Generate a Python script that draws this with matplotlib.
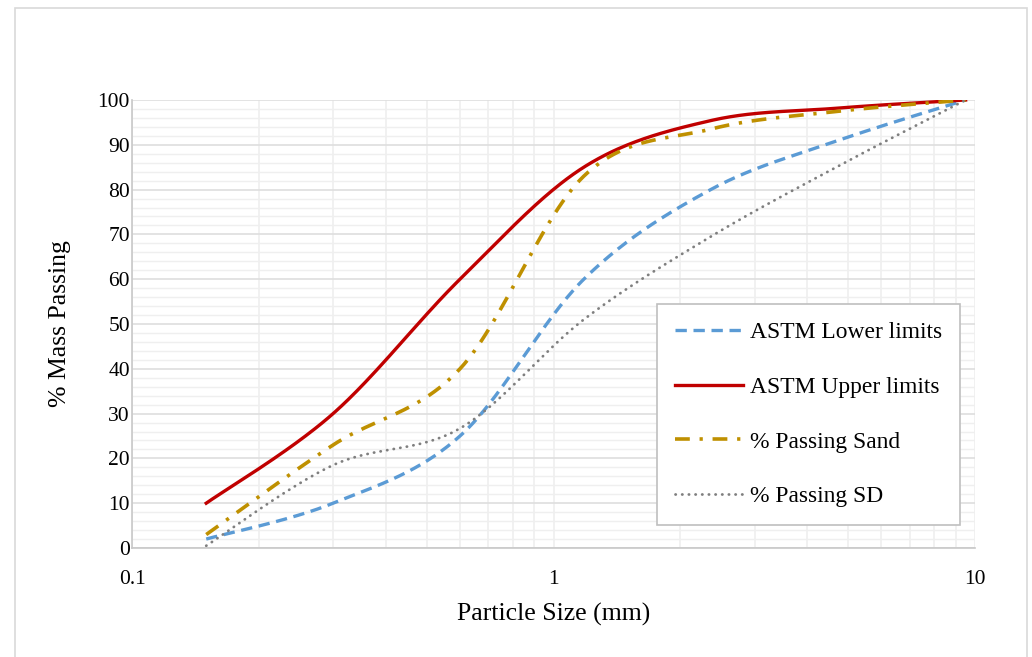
import matplotlib.pyplot as plt
import numpy as np
from matplotlib.patches import Rectangle
from matplotlib.ticker import FixedLocator, NullFormatter

SIEVE_MM = [0.15, 0.3, 0.6, 1.18, 2.36, 4.75, 9.5]
LOWER = [2, 10, 25, 60, 80, 91, 100]
UPPER = [10, 30, 60, 85, 95.4, 98.2, 100]
SAND = [3, 23, 40, 83, 93.5, 97.5, 100]
SD = [0.5, 18.5, 26.7, 51, 69.5, 85.3, 100]

LABELS = ["ASTM Lower limits", "ASTM Upper limits", "% Passing Sand", "% Passing SD"]

AX_W, AX_H = 843.0, 448.0


def smooth(xs, ys, n=60):
    # Excel-style smoothed line: Catmull-Rom Bezier in screen space (log x)
    px = (np.log10(xs) + 1) / 2 * AX_W
    py = np.asarray(ys, float) / 100 * AX_H
    pts = np.column_stack([px, py])
    ext = np.vstack([pts[0], pts, pts[-1]])
    out = []
    for i in range(len(pts) - 1):
        p0, p1, p2, p3 = ext[i], ext[i + 1], ext[i + 2], ext[i + 3]
        c1 = p1 + (p2 - p0) / 6
        c2 = p2 - (p3 - p1) / 6
        t = np.linspace(0, 1, n)[:, None]
        seg = (1 - t) ** 3 * p1 + 3 * (1 - t) ** 2 * t * c1 + 3 * (1 - t) * t ** 2 * c2 + t ** 3 * p2
        out.append(seg if i == 0 else seg[1:])
    out = np.vstack(out)
    return 10 ** (out[:, 0] / AX_W * 2 - 1), out[:, 1] / AX_H * 100


def main():
    plt.rcParams["font.family"] = ["Liberation Serif", "DejaVu Serif"]
    fig = plt.figure(figsize=(10.32, 6.57), dpi=100)
    fig.patch.set_facecolor("white")
    fig.patches.append(Rectangle((15 / 1032, -0.01), 1012 / 1032, 1 - 8 / 657 + 0.01,
                                 transform=fig.transFigure, fill=False,
                                 edgecolor="#d9d9d9", linewidth=1.2))
    ax = fig.add_axes([132 / 1032, 1 - 548 / 657, 843 / 1032, 448 / 657])

    ax.set_xscale("log")
    ax.set_xlim(0.1, 10)
    ax.set_ylim(0, 100)

    ax.xaxis.set_major_locator(FixedLocator([0.1, 1, 10]))
    ax.set_xticklabels(["0.1", "1", "10"])
    minors = [m * d for d in (0.1, 1) for m in range(2, 10)]
    ax.xaxis.set_minor_locator(FixedLocator(minors))
    ax.xaxis.set_minor_formatter(NullFormatter())
    ax.set_yticks(np.arange(0, 101, 10))
    ax.set_yticks(np.arange(0, 101, 2), minor=True)

    ax.grid(True, which="major", axis="y", color="#dedede", linewidth=1.2)
    ax.grid(True, which="minor", axis="y", color="#efefef", linewidth=1.0)
    ax.grid(True, which="both", axis="x", color="#efefef", linewidth=1.2)
    ax.set_axisbelow(True)
    ax.tick_params(which="both", length=0, labelsize=15.5, colors="black")
    ax.tick_params(axis="x", pad=16)
    ax.tick_params(axis="y", pad=1.5)
    for side in ("top", "right"):
        ax.spines[side].set_visible(False)
    for side in ("left", "bottom"):
        ax.spines[side].set_color("#c8c8c8")
        ax.spines[side].set_linewidth(1.2)

    x, y = smooth(SIEVE_MM, LOWER)
    ax.plot(x, y, color="#5B9BD5", linewidth=2.4, dashes=(3.4, 2.0),
            label=LABELS[0])
    x, y = smooth(SIEVE_MM, UPPER)
    ax.plot(x, y, color="#C00000", linewidth=2.4, label=LABELS[1])
    x, y = smooth(SIEVE_MM, SAND)
    ax.plot(x, y, color="#BF9000", linewidth=2.6, dashes=(4.1, 2.7, 0.9, 2.7),
            label=LABELS[2])
    x, y = smooth(SIEVE_MM, SD)
    ax.plot(x, y, color="#7F7F7F", linewidth=2.0, dashes=(0.1, 2.3),
            dash_capstyle="round", label=LABELS[3])

    ax.set_xlabel("Particle Size (mm)", fontsize=18.5, labelpad=9.5)
    ax.set_ylabel("% Mass Passing", fontsize=18.5, labelpad=19)

    leg = ax.legend(loc="lower right", bbox_to_anchor=(960 / 1032, 1 - 525 / 657),
                    bbox_transform=fig.transFigure, fontsize=16.9, frameon=True,
                    fancybox=False, edgecolor="#bfbfbf", framealpha=1,
                    handlelength=2.9, handletextpad=0.32, labelspacing=1.42,
                    borderpad=0.75, borderaxespad=0)
    leg.get_frame().set_linewidth(1.2)

    fig.savefig("out.png", dpi=100)


if __name__ == "__main__":
    main()
